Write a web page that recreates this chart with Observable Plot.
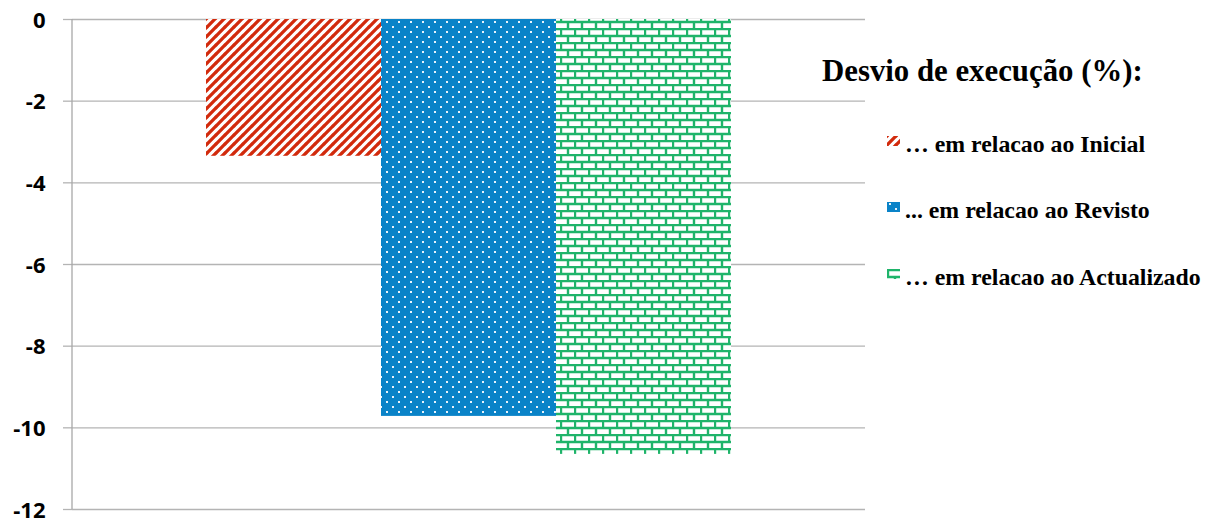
<!DOCTYPE html>
<html>
<head>
<meta charset="utf-8">
<script src="https://cdn.jsdelivr.net/npm/d3@7"></script>
<script src="https://cdn.jsdelivr.net/npm/@observablehq/plot@0.6"></script>
<style>
  html, body { margin: 0; padding: 0; background: #fff; }
  #wrap { position: relative; width: 1205px; height: 520px; }
  #legend { position: absolute; left: 0; top: 0; width: 1205px; height: 520px; pointer-events: none;
            font-family: "Liberation Serif", "Times New Roman", serif; font-weight: bold; color: #000; }
  #legend .title { position: absolute; left: 822px; top: 56px; font-size: 30.8px; white-space: nowrap; line-height: 30px; }
  #legend .item { position: absolute; left: 887px; font-size: 23.8px; white-space: nowrap; line-height: 24px; display: flex; align-items: center; }
  #legend .item svg { margin-right: 5px; }
</style>
</head>
<body>
<div id="wrap">
  <div id="chart"></div>
  <div id="legend"></div>
</div>
<script>
// ---- data ----
const series = ["… em relacao ao Inicial", "... em relacao ao Revisto", "… em relacao ao Actualizado"];
const values = [-3.35, -9.72, -10.65];
const yTicks = [0, -2, -4, -6, -8, -10, -12];
const legendTitle = "Desvio de execução (%):";
const patternIds = ["pat-stripe", "pat-dots", "pat-brick"];

const data = series.map((s, i) => ({series: s, value: values[i]}));

const defsMark = () => {
  const svg = d3.create("svg:defs");
  // red diagonal stripes
  const p1 = svg.append("pattern").attr("id", patternIds[0]).attr("patternUnits", "userSpaceOnUse")
    .attr("width", 9).attr("height", 9);
  p1.append("rect").attr("width", 9).attr("height", 9).attr("fill", "#fff");
  p1.append("path").attr("d", "M-1,1 L1,-1 M0,9 L9,0 M8,10 L10,8")
    .attr("stroke", "#d22a0c").attr("stroke-width", 3.3);
  // blue with white dots
  const p2 = svg.append("pattern").attr("id", patternIds[1]).attr("patternUnits", "userSpaceOnUse")
    .attr("width", 12).attr("height", 10);
  p2.append("rect").attr("width", 12).attr("height", 10).attr("fill", "#0a83c8");
  p2.append("rect").attr("x", 2).attr("y", 1).attr("width", 2).attr("height", 2).attr("fill", "#e8f2fa");
  p2.append("rect").attr("x", 8).attr("y", 6).attr("width", 2).attr("height", 2).attr("fill", "#e8f2fa");
  // green brick
  const p3 = svg.append("pattern").attr("id", patternIds[2]).attr("patternUnits", "userSpaceOnUse")
    .attr("width", 14).attr("height", 14);
  p3.append("rect").attr("width", 14).attr("height", 14).attr("fill", "#fff");
  p3.append("path").attr("d", "M0,1 H14 M0,8 H14 M1,1 V8 M8,8 V15 M8,-1 V1")
    .attr("stroke", "#1fb46a").attr("stroke-width", 2.4).attr("fill", "none");
  return svg.node();
};

// left axis line drawn from the y scale
const axisLine = (index, scales, values, dimensions) => {
  const g = d3.create("svg:line")
    .attr("x1", dimensions.marginLeft).attr("x2", dimensions.marginLeft)
    .attr("y1", scales.y(0)).attr("y2", scales.y(-12))
    .attr("stroke", "#a8a8a8").attr("stroke-width", 1.3);
  return g.node();
};

// bold tick labels drawn with the y scale
const tickLabels = Plot.text(yTicks, {
  y: d => d, frameAnchor: "left", dx: -27, dy: 1, textAnchor: "end", text: d => String(d),
  fontSize: 22, fontWeight: "bold", fontFamily: "'Open Sans', 'DejaVu Sans', sans-serif", fill: "#000"
});

const chart = Plot.plot({
  width: 1205,
  height: 520,
  marginLeft: 72,
  marginRight: 340,
  marginTop: 19,
  marginBottom: 11,
  style: {background: "#fff", overflow: "visible"},
  x: {type: "band", domain: series, paddingInner: 0, paddingOuter: 0.755, axis: null},
  y: {domain: [-12, 0], axis: null, label: null},
  color: {type: "ordinal", domain: series, range: patternIds.map(id => `url(#${id})`)},
  marks: [
    defsMark,
    Plot.ruleY(yTicks, {stroke: "#b4b4b4", strokeWidth: 1.3}),
    Plot.barY(data, {x: "series", y: "value", fill: "series"}),
    Plot.axisY({ticks: yTicks, label: null, tickSize: 9, text: null, stroke: "#b4b4b4", strokeWidth: 1.3}),
    tickLabels,
    axisLine
  ]
});
document.getElementById("chart").appendChild(chart);

// ---- legend ----
const legend = d3.select("#legend");
legend.append("div").attr("class", "title").text(legendTitle);
const itemTops = [132, 198, 265];
series.forEach((s, i) => {
  const it = legend.append("div").attr("class", "item").style("top", itemTops[i] + "px");
  const sw = it.append("svg").attr("width", 13).attr("height", 10).style("position", "relative").style("top", "-3px");
  sw.append("rect").attr("width", 13).attr("height", 10).attr("fill", `url(#${patternIds[i]})`);
  it.append("span").text(s);
});
</script>
</body>
</html>
